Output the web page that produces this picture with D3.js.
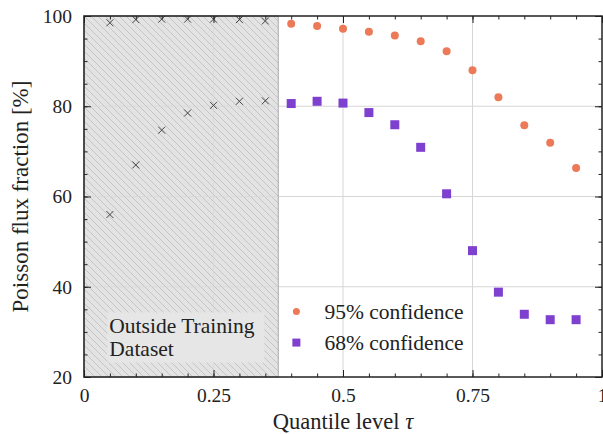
<!DOCTYPE html>
<html>
<head>
<meta charset="utf-8">
<script src="https://d3js.org/d3.v7.min.js"></script>
<style>
  body { margin: 0; background: #fff; }
  svg text { font-family: "Liberation Serif", "DejaVu Serif", serif; fill: #222; }
</style>
</head>
<body>
<svg width="603" height="434"></svg>
<script>
// quantile levels
var tauOutside = [0.05, 0.10, 0.15, 0.20, 0.25, 0.30, 0.35];
var outside95 = [98.5, 99.2, 99.3, 99.3, 99.3, 99.2, 98.9];
var outside68 = [56.0, 67.0, 74.7, 78.5, 80.2, 81.1, 81.2];

var tauInside = [0.40, 0.45, 0.50, 0.55, 0.60, 0.65, 0.70, 0.75, 0.80, 0.85, 0.90, 0.95];
var conf95 = [98.3, 97.8, 97.2, 96.5, 95.7, 94.4, 92.2, 88.0, 82.0, 75.8, 71.9, 66.3];
var conf68 = [80.6, 81.1, 80.7, 78.6, 75.9, 70.9, 60.6, 48.0, 38.8, 33.9, 32.7, 32.7];

var xTicks = [0, 0.25, 0.5, 0.75, 1];
var xTickLabels = ["0", "0.25", "0.5", "0.75", "1"];
var yTicks = [20, 40, 60, 80, 100];
var trainingLimit = 0.375;

var svg = d3.select("svg");
var margin = {top: 16, right: 1, bottom: 57, left: 84};
var width = +svg.attr("width") - margin.left - margin.right;
var height = +svg.attr("height") - margin.top - margin.bottom;

var x = d3.scaleLinear().domain([0, 1]).range([0, width]);
var y = d3.scaleLinear().domain([20, 100]).range([height, 0]);

var orange = "#ec7a58";
var purple = "#7e40cf";

// hatch pattern
var defs = svg.append("defs");
var pat = defs.append("pattern")
    .attr("id", "hatch")
    .attr("patternUnits", "userSpaceOnUse")
    .attr("width", 7).attr("height", 7);
pat.append("rect").attr("width", 7).attr("height", 7).attr("fill", "#e3e3e3");
pat.append("path")
    .attr("d", "M-1,-1 L8,8 M-8,-1 L1,8 M6,-1 L15,8")
    .attr("stroke", "#b0b0b0").attr("stroke-width", 0.6);

var g = svg.append("g").attr("transform", "translate(" + margin.left + "," + margin.top + ")");

// grid
g.append("g").selectAll("line").data(xTicks.slice(1, -1)).enter().append("line")
    .attr("x1", function(d) { return x(d); }).attr("x2", function(d) { return x(d); })
    .attr("y1", 0).attr("y2", height)
    .attr("stroke", "#d6d6d6").attr("stroke-width", 1);
g.append("g").selectAll("line").data(yTicks.slice(1, -1)).enter().append("line")
    .attr("y1", function(d) { return y(d); }).attr("y2", function(d) { return y(d); })
    .attr("x1", 0).attr("x2", width)
    .attr("stroke", "#d6d6d6").attr("stroke-width", 1);

// outside training region
g.append("rect")
    .attr("x", 0).attr("y", 0)
    .attr("width", x(trainingLimit)).attr("height", height)
    .attr("fill", "url(#hatch)")
    .attr("stroke", "#a8a8a8").attr("stroke-width", 1);

// faint grid over hatch
g.append("line")
    .attr("x1", x(0.25)).attr("x2", x(0.25)).attr("y1", 0).attr("y2", height)
    .attr("stroke", "#d6d6d6").attr("stroke-opacity", 0.6);
g.append("g").selectAll("line").data(yTicks.slice(1, -1)).enter().append("line")
    .attr("y1", function(d) { return y(d); }).attr("y2", function(d) { return y(d); })
    .attr("x1", 0).attr("x2", x(trainingLimit))
    .attr("stroke", "#d6d6d6").attr("stroke-opacity", 0.6);

// label box
var lbl = g.append("g").attr("transform", "translate(" + (x(0.045)) + "," + (y(34.3)) + ")");
lbl.append("rect").attr("x", 0).attr("y", 0).attr("width", 157).attr("height", 50)
    .attr("fill", "#e6e6e6");
lbl.append("text").attr("x", 2).attr("y", 21).attr("font-size", 21.5).text("Outside Training");
lbl.append("text").attr("x", 2).attr("y", 44).attr("font-size", 21.5).text("Dataset");

// x markers outside training
function cross(sel, data, tau) {
  sel.selectAll(null).data(data).enter().append("path")
    .attr("d", "M-3.5,-3.5L3.5,3.5M-3.5,3.5L3.5,-3.5")
    .attr("transform", function(d, i) { return "translate(" + x(tau[i]) + "," + y(d) + ")"; })
    .attr("stroke", "#444").attr("stroke-width", 1).attr("fill", "none");
}
var crosses = g.append("g");
cross(crosses, outside95, tauOutside);
cross(crosses, outside68, tauOutside);

// series
g.append("g").selectAll("circle").data(conf95).enter().append("circle")
    .attr("cx", function(d, i) { return x(tauInside[i]); })
    .attr("cy", function(d) { return y(d); })
    .attr("r", 4).attr("fill", orange);
g.append("g").selectAll("rect").data(conf68).enter().append("rect")
    .attr("x", function(d, i) { return x(tauInside[i]) - 4.5; })
    .attr("y", function(d) { return y(d) - 4.5; })
    .attr("width", 9).attr("height", 9).attr("fill", purple);

// axes with inward ticks
var xMinor = d3.range(0, 1.0001, 0.05);
var yMinor = d3.range(20, 100.001, 5);
function addAxes() {
  var ax = g.append("g").attr("transform", "translate(0," + height + ")")
      .call(d3.axisBottom(x).tickValues(xTicks).tickFormat(function(d, i) { return xTickLabels[i]; })
            .tickSizeInner(-7).tickSizeOuter(0).tickPadding(11));
  var ax2 = g.append("g").attr("transform", "translate(0," + height + ")")
      .call(d3.axisBottom(x).tickValues(xMinor).tickFormat("").tickSizeInner(-3.5).tickSizeOuter(0));
  var axt = g.append("g")
      .call(d3.axisTop(x).tickValues(xTicks).tickFormat("").tickSizeInner(-7).tickSizeOuter(0));
  var axt2 = g.append("g")
      .call(d3.axisTop(x).tickValues(xMinor).tickFormat("").tickSizeInner(-3.5).tickSizeOuter(0));
  var ay = g.append("g")
      .call(d3.axisLeft(y).tickValues(yTicks).tickSizeInner(-7).tickSizeOuter(0).tickPadding(12));
  var ay2 = g.append("g")
      .call(d3.axisLeft(y).tickValues(yMinor).tickFormat("").tickSizeInner(-3.5).tickSizeOuter(0));
  var ayr = g.append("g").attr("transform", "translate(" + width + ",0)")
      .call(d3.axisRight(y).tickValues(yTicks).tickFormat("").tickSizeInner(-7).tickSizeOuter(0));
  var ayr2 = g.append("g").attr("transform", "translate(" + width + ",0)")
      .call(d3.axisRight(y).tickValues(yMinor).tickFormat("").tickSizeInner(-3.5).tickSizeOuter(0));
  [ax, ax2, axt, axt2, ay, ay2, ayr, ayr2].forEach(function(a) {
    a.selectAll("path").remove();
    a.selectAll("line").attr("stroke", "#222");
    a.selectAll("text").attr("font-size", 19.5).attr("font-family", "Liberation Serif, serif").attr("fill", "#222");
  });
}
addAxes();

// frame
g.append("rect").attr("width", width).attr("height", height)
    .attr("fill", "none").attr("stroke", "#222").attr("stroke-width", 1.5);

// legend
var leg = g.append("g").attr("transform", "translate(" + (x(0.41)) + "," + (y(34.5)) + ")");
leg.append("circle").attr("cx", 0).attr("cy", 0).attr("r", 3.5).attr("fill", orange);
leg.append("text").attr("x", 28).attr("y", 7).attr("font-size", 21.5).text("95% confidence");
leg.append("rect").attr("x", -4).attr("y", 27).attr("width", 8).attr("height", 8).attr("fill", purple);
leg.append("text").attr("x", 28).attr("y", 38).attr("font-size", 21.5).text("68% confidence");

// axis labels
svg.append("text")
    .attr("x", margin.left + width / 2).attr("y", 429)
    .attr("text-anchor", "middle").attr("font-size", 22.5)
    .html('Quantile level <tspan font-style="italic">τ</tspan>');
svg.append("text")
    .attr("transform", "translate(28," + (margin.top + height / 2) + ") rotate(-90)")
    .attr("text-anchor", "middle").attr("font-size", 23)
    .text("Poisson flux fraction [%]");
</script>
</body>
</html>
